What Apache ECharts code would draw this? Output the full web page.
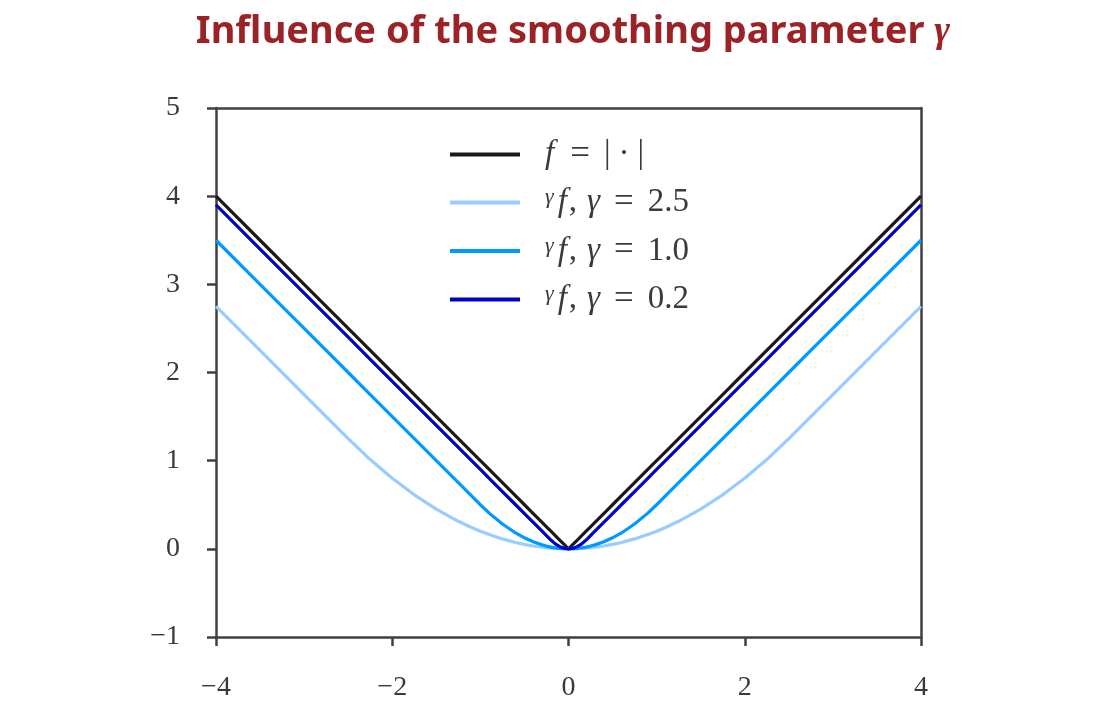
<!DOCTYPE html>
<html><head><meta charset="utf-8">
<script src="https://cdn.jsdelivr.net/npm/echarts@6/dist/echarts.min.js"></script>
<style>html,body{margin:0;padding:0;background:#fff}#c{width:1107px;height:713px}</style>
</head><body><div id="c"></div>
<script>
// x sample positions
const xs = [-4,-3.5,-3,-2.75,-2.5,-2.25,-2,-1.75,-1.5,-1.25,-1.1,-1,-0.9,-0.75,-0.6,-0.5,-0.4,-0.3,-0.25,-0.2,-0.15,-0.1,-0.05,0,
            0.05,0.1,0.15,0.2,0.25,0.3,0.4,0.5,0.6,0.75,0.9,1,1.1,1.25,1.5,1.75,2,2.25,2.5,2.75,3,3.5,4];
// f = |x|
const absVals = [4,3.5,3,2.75,2.5,2.25,2,1.75,1.5,1.25,1.1,1,0.9,0.75,0.6,0.5,0.4,0.3,0.25,0.2,0.15,0.1,0.05,0,
                 0.05,0.1,0.15,0.2,0.25,0.3,0.4,0.5,0.6,0.75,0.9,1,1.1,1.25,1.5,1.75,2,2.25,2.5,2.75,3,3.5,4];
// gamma = 2.5
const g25Vals = [2.75,2.25,1.75,1.5,1.25,1.0125,0.8,0.6125,0.45,0.3125,0.242,0.2,0.162,0.1125,0.072,0.05,0.032,0.018,0.0125,0.008,0.0045,0.002,0.0005,0,
                 0.0005,0.002,0.0045,0.008,0.0125,0.018,0.032,0.05,0.072,0.1125,0.162,0.2,0.242,0.3125,0.45,0.6125,0.8,1.0125,1.25,1.5,1.75,2.25,2.75];
// gamma = 1.0
const g10Vals = [3.5,3,2.5,2.25,2,1.75,1.5,1.25,1,0.75,0.6,0.5,0.405,0.28125,0.18,0.125,0.08,0.045,0.03125,0.02,0.01125,0.005,0.00125,0,
                 0.00125,0.005,0.01125,0.02,0.03125,0.045,0.08,0.125,0.18,0.28125,0.405,0.5,0.6,0.75,1,1.25,1.5,1.75,2,2.25,2.5,3,3.5];
// gamma = 0.2
const g02Vals = [3.9,3.4,2.9,2.65,2.4,2.15,1.9,1.65,1.4,1.15,1.0,0.9,0.8,0.65,0.5,0.4,0.3,0.2,0.15,0.1,0.05625,0.025,0.00625,0,
                 0.00625,0.025,0.05625,0.1,0.15,0.2,0.3,0.4,0.5,0.65,0.8,0.9,1.0,1.15,1.4,1.65,1.9,2.15,2.4,2.65,2.9,3.4,3.9];
const seriesNames = ['abs','g25','g10','g02'];
const seriesColors = ['#1a1a1a','#99ccff','#0099ff','#0000cc'];
const xTicks = [-4,-2,0,2,4];
const yTicks = [-1,0,1,2,3,4,5];

const zip = v => xs.map((x,i)=>[x,v[i]]);
const serif = 'Liberation Serif';
const axisCol = '#404040';
const txtCol = '#3a3a3a';
const base = {fontFamily:serif,fontSize:33,color:txtCol,lineHeight:32};
const rich = {
  itf:Object.assign({},base,{fontStyle:'italic',padding:[0,2,0,0]}),
  g:Object.assign({},base,{fontStyle:'italic',padding:[0,0,0,10]}),
  n:Object.assign({},base),
  eq:Object.assign({},base,{fontSize:35,padding:[0,14,0,14]}),
  bar:Object.assign({},base,{padding:[0,8,0,8]}),
  sup:Object.assign({},base,{fontStyle:'italic',fontSize:22,verticalAlign:'top',padding:[0,4,12,0]})
};
const labels = {
  abs:'{itf|f}{eq|=}{n||}{bar|·}{n||}',
  g25:'{sup|γ}{itf|f}{n|,}{g|γ}{eq|=}{n|2.5}',
  g10:'{sup|γ}{itf|f}{n|,}{g|γ}{eq|=}{n|1.0}',
  g02:'{sup|γ}{itf|f}{n|,}{g|γ}{eq|=}{n|0.2}'
};
const minus = v => String(v).replace('-', '\u2212');
const chart = echarts.init(document.getElementById('c'), null, {renderer:'canvas'});
chart.setOption({
  animation:false,
  backgroundColor:'#fff',
  title:{
    text:'{t|Influence of the smoothing parameter }{g|γ}',
    left:568, top:8, textAlign:'center',
    textStyle:{rich:{
      t:{fontFamily:'Noto Sans',fontWeight:'bold',fontSize:38,color:'#9b2226'},
      g:{fontFamily:serif,fontStyle:'italic',fontSize:38,color:'#9b2226'}
    }}
  },
  grid:{left:216,right:186,top:108,bottom:76,containLabel:false},
  legend:{
    data:seriesNames, left:445, top:132, orient:'vertical',
    icon:'rect', itemWidth:70, itemHeight:4, itemGap:13,
    formatter: n => labels[n],
    textStyle:{fontFamily:serif,fontSize:33,color:txtCol,rich, padding:[0,0,0,20]}
  },
  xAxis:[{
    type:'value', min:-4, max:4, interval:2,
    axisLine:{show:true,onZero:false,lineStyle:{color:axisCol,width:2.5}},
    axisTick:{show:true,inside:false,length:9,lineStyle:{color:axisCol,width:2.5}},
    splitLine:{show:false},
    axisLabel:{formatter:minus,fontFamily:serif,fontSize:28,color:txtCol,margin:37}
  },{
    type:'value', position:'top', min:-4, max:4,
    axisLine:{show:true,onZero:false,lineStyle:{color:axisCol,width:2.5}},
    axisTick:{show:false}, axisLabel:{show:false}, splitLine:{show:false}
  }],
  yAxis:[{
    type:'value', min:-1, max:5, interval:1,
    axisLine:{show:true,onZero:false,lineStyle:{color:axisCol,width:2.5}},
    axisTick:{show:true,inside:false,length:9,lineStyle:{color:axisCol,width:2.5}},
    splitLine:{show:false},
    axisLabel:{formatter:minus,fontFamily:serif,fontSize:28,color:txtCol,margin:36}
  },{
    type:'value', position:'right', min:-1, max:5,
    axisLine:{show:true,onZero:false,lineStyle:{color:axisCol,width:2.5}},
    axisTick:{show:false}, axisLabel:{show:false}, splitLine:{show:false}
  }],
  series:[absVals,g25Vals,g10Vals,g02Vals].map((v,i)=>({
    name:seriesNames[i], type:'line', data:zip(v), symbol:'none',
    color:seriesColors[i],
    lineStyle:{color:seriesColors[i],width:3.2}, z:2+i
  }))
});
</script></body></html>
